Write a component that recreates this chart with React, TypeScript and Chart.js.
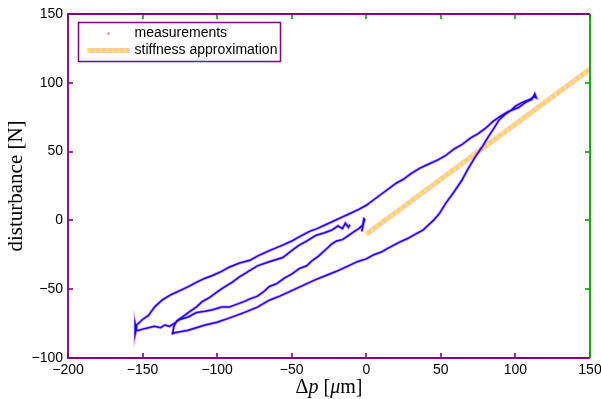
import React, { useEffect, useRef } from 'react';
import { Chart, registerables } from 'chart.js';

Chart.register(...registerables);

// ---------- data ----------
const xTickValues = [-200, -150, -100, -50, 0, 50, 100, 150];
const xTickLabels = ['\u2212200', '\u2212150', '\u2212100', '\u221250', '0', '50', '100', '150'];
const yTickValues = [-100, -50, 0, 50, 100, 150];
const yTickLabels = ['\u2212100', '\u221250', '0', '50', '100', '150'];

const seriesLabels = ['measurements', 'stiffness approximation'];
const yTitle = 'disturbance [N]';
const xTitleParts = [
  { text: '\u0394', italic: false },
  { text: 'p', italic: true },
  { text: ' [', italic: false },
  { text: '\u03bc', italic: true },
  { text: 'm]', italic: false },
];

const measurementDp = [
  // inner branch from ~0 down to -155
  -1, -2.5, -1.5, -3, -2, -5, -8, -12, -16, -20, -23, -27, -32, -36, -40, -45, -50, -55, -60, -65,
  -69, -73, -78, -82, -87, -92, -97, -103, -108, -114, -119, -125, -129, -132, -135, -138, -142, -146,
  -150, -153, -154, -155, -155, -154,
  // upper outer branch up to +115
  -154, -150, -146, -142, -137, -131, -125, -119, -114, -108, -103, -97, -92, -85, -78, -73, -65, -56,
  -50, -45, -38, -33, -27, -23, -17, -11, -5, 0, 5, 10, 15, 20, 25, 30, 36, 42, 48, 53, 59, 64, 70, 75,
  80, 85, 89, 95, 102, 107, 111, 113, 114, 112,
  // steep descending branch and lowest branch to -130
  110, 105, 100, 97, 93, 89, 85, 82, 78, 73, 68, 64, 59, 53, 49, 45, 42, 38, 33, 28, 22, 15, 10, 5, 0,
  -6, -12, -20, -27, -34, -42, -50, -58, -65, -73, -82, -92, -100, -108, -114, -120, -125, -130,
  // second branch from -130 up to ~-12
  -130, -129, -127, -123, -118, -114, -110, -105, -100, -96, -90, -85, -79, -73, -65, -56, -50, -45,
  -40, -34, -28, -23, -19, -16, -14, -12, -11,
];
const measurementForce = [
  1, -4, 2, -8, -3, -6, -8, -11, -14, -15, -17, -21, -26, -29, -33, -35, -39, -42, -46, -48,
  -52, -55, -57, -59, -61, -63, -63, -65, -66, -67, -70, -72, -75, -77, -76, -78, -77, -78,
  -79, -80, -80, -75, -83, -78,
  -76, -72, -69, -63, -58, -54, -51, -48, -45, -42, -40, -37, -34, -31, -29, -26, -22, -18,
  -15, -12, -8, -6, -3, -1, 2, 5, 8, 11, 15, 19, 23, 27, 30, 34, 38, 41, 44, 47, 52, 55, 60, 63,
  67, 72, 75, 79, 82, 86, 88, 92, 89, 90,
  88, 86, 83, 80, 77, 73, 66, 61, 54, 46, 37, 29, 21, 12, 5, 0, -3, -7, -10, -13, -16, -20, -23, -25, -28,
  -30, -33, -37, -40, -43, -47, -51, -55, -58, -63, -67, -71, -74, -76, -78, -80, -81, -82,
  -83, -77, -73, -70, -66, -63, -59, -56, -52, -49, -45, -41, -37, -33, -30, -27, -22, -18,
  -15, -11, -9, -7, -4, -6, -2, -5, -3,
];

const stiffnessDp = [0, 150];
const stiffnessForce = [-10, 110];

// ---------- styles ----------
const SANS = "'Liberation Sans', Arial, Helvetica, sans-serif";
const SERIF = "'Liberation Serif', 'Times New Roman', serif";
const PURPLE = '#800080';
const GREEN = '#00a000';
const MEAS_BLUE = '#0a0aff';
const MEAS_MAGENTA = 'rgba(200, 50, 255, 0.5)';
const STIFF_YELLOW = '#ffec30';
const STIFF_PINK = '#f9c0cc';

const framePlugin = {
  id: 'matlabFrame',
  afterDatasetsDraw(chart: any) {
    const { ctx, chartArea: a, scales } = chart;
    const L = Math.round(a.left);
    const R = Math.round(a.right);
    const T = Math.round(a.top);
    const B = Math.round(a.bottom);
    const tl = 5;
    ctx.save();
    ctx.lineWidth = 1.6;
    xTickValues.forEach((v) => {
      const px = Math.round(scales.x.getPixelForValue(v));
      ctx.strokeStyle = PURPLE;
      ctx.beginPath(); ctx.moveTo(px, B); ctx.lineTo(px, B - tl); ctx.stroke();
      ctx.strokeStyle = GREEN;
      ctx.beginPath(); ctx.moveTo(px, T); ctx.lineTo(px, T + tl); ctx.stroke();
    });
    yTickValues.forEach((v) => {
      const py = Math.round(scales.y.getPixelForValue(v));
      ctx.strokeStyle = PURPLE;
      ctx.beginPath(); ctx.moveTo(L, py); ctx.lineTo(L + tl, py); ctx.stroke();
      ctx.strokeStyle = GREEN;
      ctx.beginPath(); ctx.moveTo(R, py); ctx.lineTo(R - tl, py); ctx.stroke();
    });
    ctx.lineWidth = 1.8;
    ctx.strokeStyle = PURPLE;
    ctx.beginPath();
    ctx.moveTo(R, T); ctx.lineTo(L, T); ctx.lineTo(L, B); ctx.lineTo(R, B);
    ctx.stroke();
    ctx.strokeStyle = GREEN;
    ctx.beginPath(); ctx.moveTo(R, T); ctx.lineTo(R, B); ctx.stroke();
    ctx.restore();
  },
};

const legendPlugin = {
  id: 'boxedLegend',
  afterDraw(chart: any) {
    const { ctx, chartArea: a } = chart;
    const x0 = Math.round(a.left) + 10.5;
    const y0 = Math.round(a.top) + 8.5;
    const w = 202;
    const h = 39;
    ctx.save();
    ctx.fillStyle = '#ffffff';
    ctx.fillRect(x0, y0, w, h);
    ctx.strokeStyle = PURPLE;
    ctx.lineWidth = 1.5;
    ctx.strokeRect(x0, y0, w, h);
    const row1 = y0 + 11;
    const row2 = y0 + 28;
    // measurement marker
    ctx.fillStyle = '#e0608a';
    ctx.fillRect(x0 + 29, row1 - 1, 2, 2);
    // stiffness sample
    ctx.lineWidth = 5;
    ctx.strokeStyle = STIFF_PINK;
    ctx.beginPath(); ctx.moveTo(x0 + 9, row2); ctx.lineTo(x0 + 51, row2); ctx.stroke();
    ctx.lineWidth = 4;
    ctx.strokeStyle = STIFF_YELLOW;
    ctx.setLineDash([3, 3]);
    ctx.beginPath(); ctx.moveTo(x0 + 9, row2); ctx.lineTo(x0 + 51, row2); ctx.stroke();
    ctx.setLineDash([]);
    ctx.fillStyle = '#000';
    ctx.font = `14px ${SANS}`;
    ctx.textAlign = 'left';
    ctx.textBaseline = 'middle';
    ctx.fillText(seriesLabels[0], x0 + 56, row1);
    ctx.fillText(seriesLabels[1], x0 + 56, row2);
    ctx.restore();
  },
};

const xTitlePlugin = {
  id: 'xTitleMixed',
  afterDraw(chart: any) {
    const { ctx, chartArea: a } = chart;
    const size = 20;
    const fontFor = (it: boolean) => `${it ? 'italic ' : ''}${size}px ${SERIF}`;
    ctx.save();
    let total = 0;
    const widths = xTitleParts.map((p) => {
      ctx.font = fontFor(p.italic);
      const wd = ctx.measureText(p.text).width;
      total += wd;
      return wd;
    });
    let x = (a.left + a.right) / 2 - total / 2;
    const y = a.bottom + 35;
    ctx.fillStyle = '#000';
    ctx.textAlign = 'left';
    ctx.textBaseline = 'alphabetic';
    xTitleParts.forEach((p, i) => {
      ctx.font = fontFor(p.italic);
      ctx.fillText(p.text, x, y);
      x += widths[i];
    });
    ctx.restore();
  },
};

export default function App() {
  const ref = useRef<HTMLCanvasElement>(null);

  useEffect(() => {
    const canvas = ref.current;
    if (!canvas) return;
    const meas = measurementDp.map((x, i) => ({ x, y: measurementForce[i] }));
    const stiff = stiffnessDp.map((x, i) => ({ x, y: stiffnessForce[i] }));

    const chart = new Chart(canvas, {
      type: 'line',
      data: {
        datasets: [
          { label: seriesLabels[0], data: meas, borderColor: MEAS_BLUE, borderWidth: 1.5, pointRadius: 0, order: 0 },
          { label: seriesLabels[0], data: meas, borderColor: MEAS_MAGENTA, borderWidth: 3, pointRadius: 0, order: 1 },
          { label: seriesLabels[1], data: stiff, borderColor: STIFF_YELLOW, borderWidth: 4, borderDash: [3, 3], pointRadius: 0, order: 2 },
          { label: seriesLabels[1], data: stiff, borderColor: STIFF_PINK, borderWidth: 5, pointRadius: 0, order: 3 },
        ] as any,
      },
      options: {
        responsive: false,
        animation: false,
        devicePixelRatio: 1,
        layout: { padding: { top: 14, right: 11, left: 0, bottom: 0 } },
        elements: { line: { tension: 0 }, point: { radius: 0 } },
        plugins: { legend: { display: false }, tooltip: { enabled: false } },
        scales: {
          x: {
            type: 'linear',
            min: -200,
            max: 150,
            afterBuildTicks: (s: any) => { s.ticks = xTickValues.map((value) => ({ value })); },
            afterFit: (s: any) => { s.height = 41; s.paddingLeft = 0; s.paddingRight = 0; },
            grid: { display: false, drawTicks: false, tickLength: 0 },
            border: { display: false },
            ticks: {
              autoSkip: false,
              maxRotation: 0,
              padding: 4,
              color: '#000',
              font: { family: SANS, size: 14 },
              callback: (_v: any, i: number) => xTickLabels[i],
            },
          },
          y: {
            type: 'linear',
            min: -100,
            max: 150,
            afterBuildTicks: (s: any) => { s.ticks = yTickValues.map((value) => ({ value })); },
            afterFit: (s: any) => { s.width = 68; s.paddingTop = 0; s.paddingBottom = 0; },
            grid: { display: false, drawTicks: false, tickLength: 0 },
            border: { display: false },
            title: {
              display: true,
              text: yTitle,
              color: '#000',
              font: { family: SERIF, size: 21 },
              padding: { top: 4, bottom: 0 },
            },
            ticks: {
              autoSkip: false,
              padding: 5,
              color: '#000',
              font: { family: SANS, size: 14 },
              callback: (_v: any, i: number) => yTickLabels[i],
            },
          },
        },
      } as any,
      plugins: [framePlugin, legendPlugin, xTitlePlugin],
    });
    return () => chart.destroy();
  }, []);

  return (
    <div style={{ position: 'fixed', left: 0, top: 0, width: 601, height: 399, background: '#fff' }}>
      <canvas ref={ref} width={601} height={399} style={{ display: 'block' }} />
    </div>
  );
}
